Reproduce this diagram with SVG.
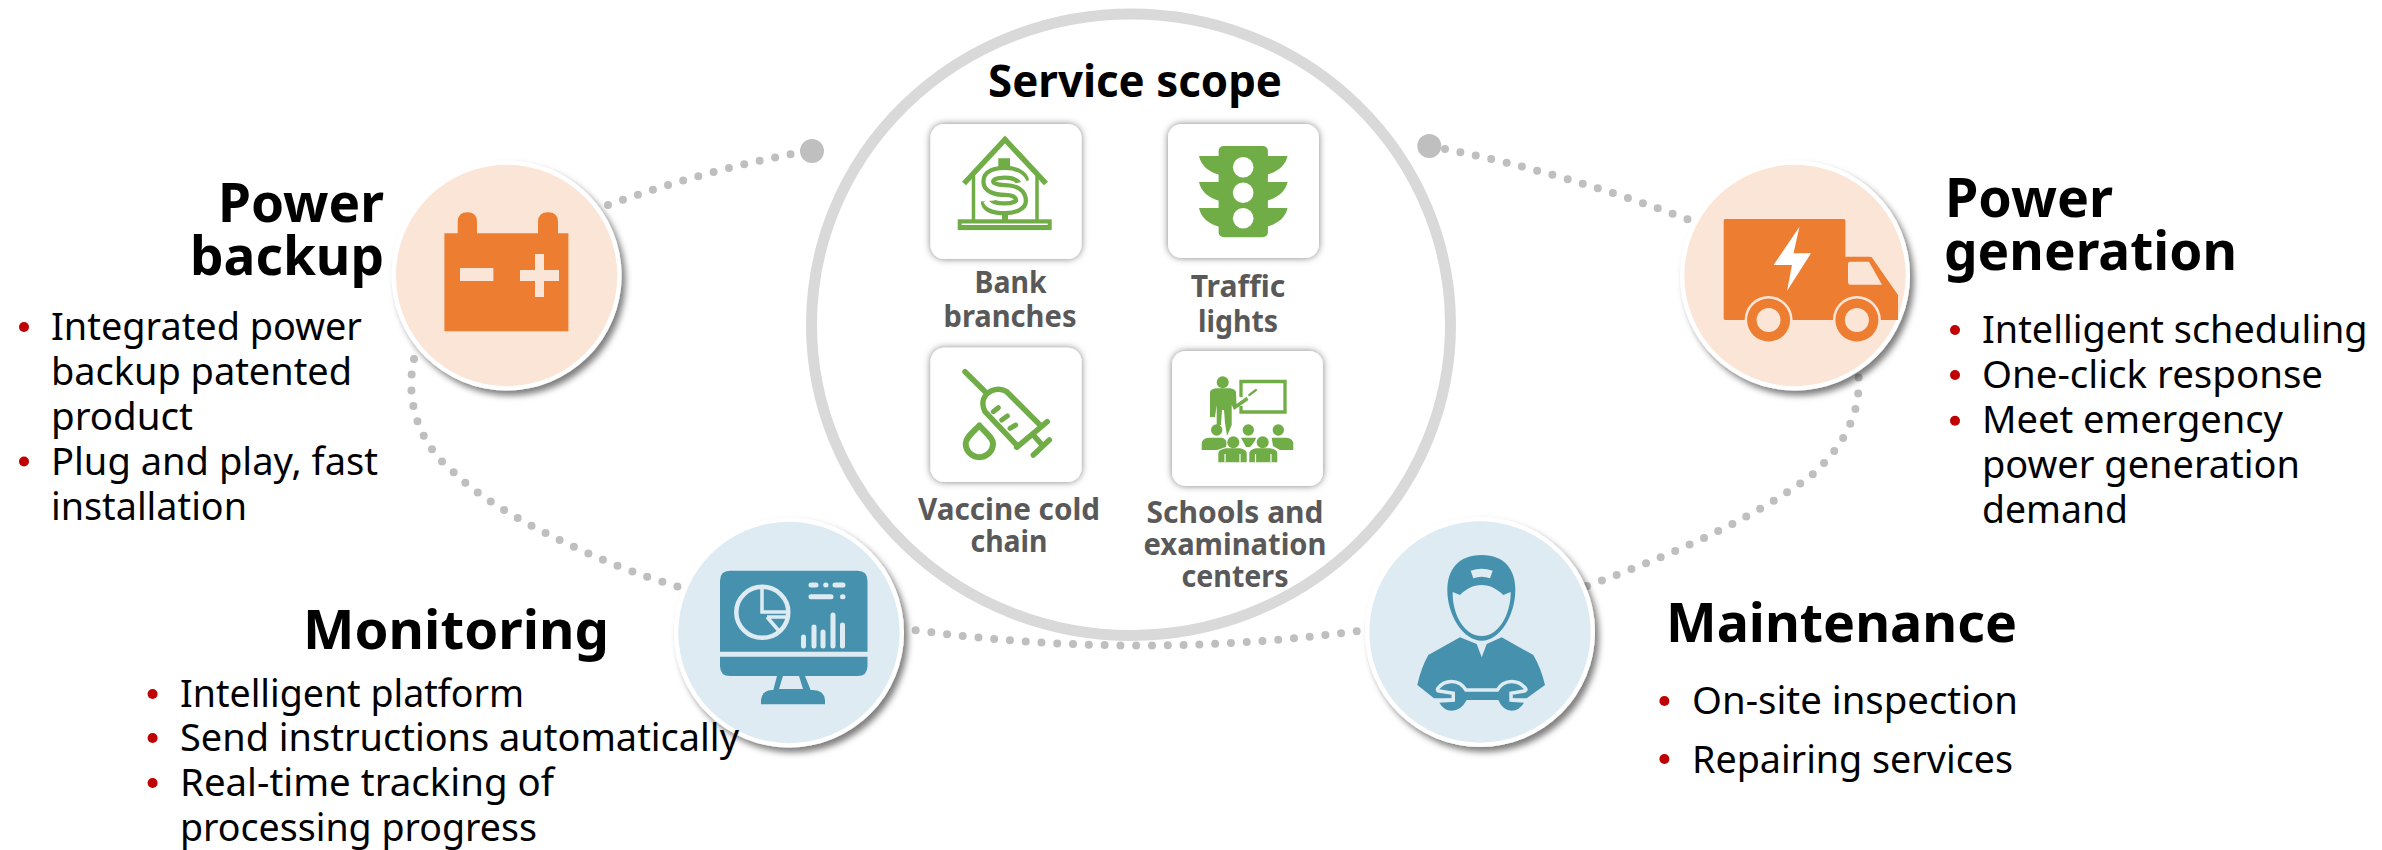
<svg xmlns="http://www.w3.org/2000/svg" width="2382" height="850" viewBox="0 0 2382 850">
<defs>
<style>
text{font-family:"Noto Sans","Open Sans","Liberation Sans",sans-serif}
.t{font-size:54px;font-weight:700;fill:#000}
.s{font-size:45px;font-weight:700;fill:#000}
.b{font-size:37.500px;font-weight:400;fill:#000}
.l{font-size:30px;font-weight:700;fill:#595959;text-anchor:middle}
.bu{fill:#c00000}
.ring{fill:#fff;filter:url(#sh)}
.card{fill:#fff;filter:url(#cs)}
.dots{fill:none;stroke:#bfbfbf;stroke-width:8;stroke-linecap:round;stroke-dasharray:0 15.8}
.o{fill:#ed7d31}.oi{fill:#fbe5d6}
.bl{fill:#4692ae}.bli{fill:#deebf3}
.g{fill:#70ad47}
.gs{fill:none;stroke:#70ad47;stroke-linecap:round;stroke-linejoin:round}
</style>
<filter id="sh" x="-20%" y="-20%" width="140%" height="140%"><feDropShadow dx="4" dy="5" stdDeviation="3" flood-color="#000" flood-opacity=".5"/></filter>
<filter id="cs" x="-20%" y="-20%" width="140%" height="140%"><feDropShadow dx="0" dy="0" stdDeviation="3.5" flood-color="#000" flood-opacity=".5"/></filter>
</defs>
<rect width="2382" height="850" fill="#fff"/>

<g id="scope-ring"><ellipse cx="1131" cy="324.700" rx="319.500" ry="310.700" fill="#fff" stroke="#d9d9d9" stroke-width="11"/></g>

<g id="connectors">
<path class="dots" d="M608 205Q700 172 792 154"/>
<path class="dots" d="M414 359C405 400 418 445 456 474C490 510 600 565 683 588"/>
<path class="dots" d="M900 628Q1135 662 1365 630"/>
<path class="dots" d="M1587 586C1680 552 1760 515 1813 474C1850 440 1862 405 1858 370"/>
<path class="dots" d="M1445 149Q1570 174 1700 224"/>
<circle cx="812" cy="151" r="12" fill="#bfbfbf"/>
<circle cx="1429.300" cy="146" r="12" fill="#bfbfbf"/>
</g>

<g id="scope">
<text class="s" x="1135" y="97" text-anchor="middle" textLength="294" lengthAdjust="spacingAndGlyphs">Service scope</text>
</g>

<g id="bank">
<rect class="card" x="930.500" y="124" width="151" height="135" rx="14"/>
<path d="M964 183.500L1005 139.500L1046 183.500" fill="none" stroke="#70ad47" stroke-width="5.500"/>
<path d="M973.500 176V220M1037 176V220" fill="none" stroke="#70ad47" stroke-width="3.500"/>
<rect class="g" x="957.700" y="219.300" width="94" height="10.800"/>
<path d="M961.700 224.300H1047.700" stroke="#fff" stroke-width="1.500" fill="none"/>
<path class="g" d="M998.300 158.300H1010V168H998.300ZM1002 210H1008V220H1002Z"/>
<path d="M1022.300 181.700C1021 176 1014 172.700 1005 172.700C996 172.700 988.300 175 988.300 181.700C988.300 187 995 190 1005 190C1015 190 1021 194 1021 201C1021 205 1014 208.300 1005 208.300C995 208.300 988 206 987.700 201" fill="none" stroke="#70ad47" stroke-width="14"/>
<path d="M1024 181.700C1021 176 1014 172.700 1005 172.700C996 172.700 988.300 175 988.300 181.700C988.300 187 995 190 1005 190C1015 190 1021 194 1021 201C1021 205 1014 208.300 1005 208.300C995 208.300 988 206 986 201" fill="none" stroke="#fff" stroke-width="5.500"/>
<text class="l" x="1010.500" y="293" textLength="72" lengthAdjust="spacingAndGlyphs">Bank</text>
<text class="l" x="1010" y="327" textLength="133" lengthAdjust="spacingAndGlyphs">branches</text>
</g>

<g id="traffic">
<rect class="card" x="1168" y="124" width="151" height="134" rx="14"/>
<rect class="g" x="1218.600" y="146" width="49.300" height="91.300" rx="5"/>
<path class="g" d="M1199 156H1220V175C1209 172 1201 166 1199 156ZM1199 182H1220V201C1209 198 1201 192 1199 182ZM1199 208H1220V227C1209 224 1201 218 1199 208ZM1287.500 156H1266V175C1277 172 1285.500 166 1287.500 156ZM1287.500 182H1266V201C1277 198 1285.500 192 1287.500 182ZM1287.500 208H1266V227C1277 224 1285.500 218 1287.500 208Z"/>
<circle cx="1243.200" cy="167.300" r="10.300" fill="#fff"/>
<circle cx="1243.200" cy="192.700" r="10.300" fill="#fff"/>
<circle cx="1243.200" cy="218.300" r="10.300" fill="#fff"/>
<text class="l" x="1238" y="297" textLength="94.600" lengthAdjust="spacingAndGlyphs">Traffic</text>
<text class="l" x="1238" y="332" textLength="80" lengthAdjust="spacingAndGlyphs">lights</text>
</g>

<g id="vaccine">
<rect class="card" x="930.500" y="347.700" width="151" height="134.300" rx="14"/>
<path class="gs" stroke-width="5.500" d="M965 371.700L986.700 393.300M1016.700 447.300L1047.300 421.700M1033.300 435L1040.700 443.300M1033.300 455L1049.300 440"/>
<path class="gs" stroke-width="5.500" d="M1040 425L1006.700 391.700C994 384 977 396 985 411.700L1016.700 445"/>
<path class="gs" stroke-width="5" d="M993.300 411.700L998.300 407.700M1001.700 420L1007.300 416M1010 428.300L1015.700 425"/>
<path class="gs" stroke-width="6" d="M979.300 425.500C972 433 965.700 438 965.700 443.500A13.600 13.600 0 0 0 993 443.500C993 438 986 433 979.300 425.500Z"/>
<text class="l" x="1009" y="520" textLength="182" lengthAdjust="spacingAndGlyphs">Vaccine cold</text>
<text class="l" x="1009" y="552" textLength="77" lengthAdjust="spacingAndGlyphs">chain</text>
</g>

<g id="schools">
<rect class="card" x="1172" y="351" width="151" height="135" rx="14"/>
<path d="M1241 397V381.500H1285V412H1241V406" fill="none" stroke="#70ad47" stroke-width="3.300"/>
<circle class="g" cx="1222.700" cy="382.300" r="6"/>
<path class="g" d="M1210 392Q1211 389 1216 388.300H1230Q1235 389 1236 392L1236.500 404L1246.700 396.700L1248.500 400L1234 410L1231.700 405V425L1227 436L1225 423L1224 410H1222L1221 425H1216.700V405L1215 417H1210Z"/>
<path class="gs" stroke-width="2.200" d="M1249.300 395L1256 390"/>
<circle class="g" cx="1216.700" cy="430" r="5.700"/><circle class="g" cx="1248.300" cy="430" r="5.700"/><circle class="g" cx="1278.300" cy="430" r="5.700"/>
<path class="g" d="M1201.700 450V443Q1202 439 1208 437.700H1222Q1228 439 1226 447L1217 450ZM1241 437.700H1256Q1255 442 1250 447H1246ZM1271.700 437.700H1287Q1293 439 1293.300 443V450H1280L1273 446Z"/>
<circle class="g" cx="1233.300" cy="442.300" r="6"/><circle class="g" cx="1262.700" cy="442.300" r="6"/>
<path class="g" d="M1218.300 462.300V453Q1219 449.500 1226 448.300H1240Q1246 449.500 1246.700 453V462.300ZM1249.300 462.300V453Q1250 449.500 1256 448.300H1270Q1277 449.500 1277.300 453V462.300Z"/>
<path d="M1225 454V462.300M1240 454V462.300M1255.500 454V462.300M1271 454V462.300" stroke="#fff" stroke-width="1.200" fill="none"/>
<text class="l" x="1235" y="522.700" textLength="177" lengthAdjust="spacingAndGlyphs">Schools and</text>
<text class="l" x="1235" y="554.500" textLength="183" lengthAdjust="spacingAndGlyphs">examination</text>
<text class="l" x="1235" y="587" textLength="107" lengthAdjust="spacingAndGlyphs">centers</text>
</g>

<g id="power-backup">
<circle class="ring" cx="506.600" cy="275.500" r="115"/>
<circle class="oi" cx="506.600" cy="275.500" r="110.700"/>
<path class="o" d="M444.400 233.300H457.700V222Q457.700 212.300 467.400 212.300Q477 212.300 477 222V233.300H538V222Q538 212.300 548 212.300Q558 212.300 558 222V233.300H568.400V331.300H444.400Z"/>
<rect class="oi" x="460" y="268" width="33.400" height="13"/>
<rect class="oi" x="520" y="270" width="39" height="11"/>
<rect class="oi" x="535" y="254" width="9" height="43"/>
<text class="t" x="218" y="221.700" textLength="166" lengthAdjust="spacingAndGlyphs">Power</text>
<text class="t" x="190" y="275" textLength="194" lengthAdjust="spacingAndGlyphs">backup</text>
<circle class="bu" cx="24" cy="327" r="5"/>
<text class="b" x="51" y="340" textLength="311" lengthAdjust="spacingAndGlyphs">Integrated power</text>
<text class="b" x="51" y="385" textLength="301" lengthAdjust="spacingAndGlyphs">backup patented</text>
<text class="b" x="51" y="430" textLength="142" lengthAdjust="spacingAndGlyphs">product</text>
<circle class="bu" cx="24" cy="461.500" r="5"/>
<text class="b" x="51" y="475" textLength="327" lengthAdjust="spacingAndGlyphs">Plug and play, fast</text>
<text class="b" x="51" y="519.500" textLength="196" lengthAdjust="spacingAndGlyphs">installation</text>
</g>

<g id="power-generation">
<circle class="ring" cx="1795" cy="275.500" r="115"/>
<circle class="oi" cx="1795" cy="275.500" r="110.700"/>
<path class="o" d="M1725 219H1844Q1845.400 219 1845.400 221V256.700H1870Q1872 256.700 1873 259L1898 295V320H1725Q1723.700 320 1723.700 318V221Q1723.700 219 1725 219Z"/>
<path class="oi" d="M1850 261.700H1869L1882 284.700H1850Q1848 284.700 1848 282V264Q1848 261.700 1850 261.700Z"/>
<path d="M1799.500 226.700L1773.600 265H1792L1787 291L1811 253.300H1793.500Z" fill="#fff"/>
<circle class="oi" cx="1768.600" cy="320" r="24"/><circle class="oi" cx="1856.900" cy="320" r="24"/>
<circle class="o" cx="1768.600" cy="320" r="21.500"/><circle class="o" cx="1856.900" cy="320" r="21.500"/>
<circle class="oi" cx="1768.600" cy="320" r="12"/><circle class="oi" cx="1856.900" cy="320" r="12"/>
<text class="t" x="1945" y="216.700" textLength="168" lengthAdjust="spacingAndGlyphs">Power</text>
<text class="t" x="1944" y="270" textLength="293" lengthAdjust="spacingAndGlyphs">generation</text>
<circle class="bu" cx="1955" cy="330" r="5"/>
<text class="b" x="1982" y="343" textLength="385.500" lengthAdjust="spacingAndGlyphs">Intelligent scheduling</text>
<circle class="bu" cx="1955" cy="375" r="5"/>
<text class="b" x="1982" y="388" textLength="341" lengthAdjust="spacingAndGlyphs">One-click response</text>
<circle class="bu" cx="1955" cy="420.700" r="5"/>
<text class="b" x="1982" y="433" textLength="301" lengthAdjust="spacingAndGlyphs">Meet emergency</text>
<text class="b" x="1982" y="478" textLength="318" lengthAdjust="spacingAndGlyphs">power generation</text>
<text class="b" x="1982" y="523" textLength="146" lengthAdjust="spacingAndGlyphs">demand</text>
</g>

<g id="monitoring">
<circle class="ring" cx="789" cy="632.500" r="115"/>
<circle class="bli" cx="789" cy="632.500" r="110.700"/>
<path class="bl" d="M730 570.700H857.500Q867.500 570.700 867.500 580.700V651.700H720V580.700Q720 570.700 730 570.700ZM720 656.700H867.500V666Q867.500 676 857.500 676H730Q720 676 720 666Z"/>
<path class="bl" d="M777 676H805L811 691H773Z"/>
<path class="bli" d="M783 676H799L803 689H779Z"/>
<path class="bl" d="M761 704.300V700Q762 690 773 690H813Q824 690 825 700V704.300Z"/>
<ellipse cx="762.300" cy="612.300" rx="26" ry="25.500" fill="none" stroke="#deebf3" stroke-width="4.500"/>
<path d="M762 587V612H789M767 617H789M767 617L779 631" fill="none" stroke="#deebf3" stroke-width="3.500"/>
<path d="M811 585H816M825.700 585H826M835 585H843M811 596.700H831M842.500 596.700H843" fill="none" stroke="#deebf3" stroke-width="5" stroke-linecap="round"/>
<path d="M803.500 637V646M814 627V646M823 632V646M833 615V646M842.500 625V646" fill="none" stroke="#deebf3" stroke-width="5" stroke-linecap="round"/>
<text class="t" x="303" y="649" textLength="306" lengthAdjust="spacingAndGlyphs">Monitoring</text>
<circle class="bu" cx="152.600" cy="694" r="5"/>
<text class="b" x="180" y="707" textLength="344" lengthAdjust="spacingAndGlyphs">Intelligent platform</text>
<circle class="bu" cx="152.600" cy="738" r="5"/>
<text class="b" x="180" y="750.700" textLength="559" lengthAdjust="spacingAndGlyphs">Send instructions automatically</text>
<circle class="bu" cx="152.600" cy="783" r="5"/>
<text class="b" x="180" y="796" textLength="374" lengthAdjust="spacingAndGlyphs">Real-time tracking of</text>
<text class="b" x="180" y="841" textLength="357" lengthAdjust="spacingAndGlyphs">processing progress</text>
</g>

<g id="maintenance">
<circle class="ring" cx="1480" cy="632" r="115"/>
<circle class="bli" cx="1480" cy="632" r="110.700"/>
<path class="bl" d="M1481.700 555C1505 555 1515.300 570 1515.300 590C1515.300 615 1500 640.700 1481.700 640.700C1463 640.700 1447.300 615 1447.300 590C1447.300 570 1458 555 1481.700 555Z"/>
<path class="bli" d="M1452.700 592L1460 595C1466 589 1473 585 1481.700 585C1490 585 1497 589 1503.300 595L1510.700 592C1511 612 1500 636 1481.700 636C1463 636 1452 612 1452.700 592Z"/>
<path class="bli" d="M1470.700 570.700Q1481.700 567 1492.700 570.700L1490 578.300Q1481.700 575 1473.300 578.300Z"/>
<path class="bl" d="M1460 637.300L1476.700 644L1481.700 657.300L1486.700 644L1501.700 637.300L1533.300 655Q1541 668 1545 685L1526.700 698.300H1434L1417.300 685Q1421 668 1428.300 655Z"/>
<path class="bl" stroke="#deebf3" stroke-width="7" stroke-linejoin="round" d="M1439.300 689.300Q1444 683.300 1451.700 683.300Q1460 683.300 1465 691.700H1498.300Q1503 683.300 1511.700 683.300Q1519 683.300 1524 689.300L1509.300 691.700V701.700L1524 702.700Q1519 710.700 1511.700 710.700Q1503 710.700 1498.300 700H1466.700Q1461 710.700 1451.700 710.700Q1444 710.700 1439.300 702.700L1455 701.700V691.700Z"/>
<path class="bl" d="M1439.300 689.300Q1444 683.300 1451.700 683.300Q1460 683.300 1465 691.700H1498.300Q1503 683.300 1511.700 683.300Q1519 683.300 1524 689.300L1509.300 691.700V701.700L1524 702.700Q1519 710.700 1511.700 710.700Q1503 710.700 1498.300 700H1466.700Q1461 710.700 1451.700 710.700Q1444 710.700 1439.300 702.700L1455 701.700V691.700Z"/>
<text class="t" x="1666" y="641.700" textLength="351" lengthAdjust="spacingAndGlyphs">Maintenance</text>
<circle class="bu" cx="1664.400" cy="701" r="5"/>
<text class="b" x="1692" y="714" textLength="326" lengthAdjust="spacingAndGlyphs">On-site inspection</text>
<circle class="bu" cx="1664.400" cy="759" r="5"/>
<text class="b" x="1692" y="772.700" textLength="321" lengthAdjust="spacingAndGlyphs">Repairing services</text>
</g>
</svg>
